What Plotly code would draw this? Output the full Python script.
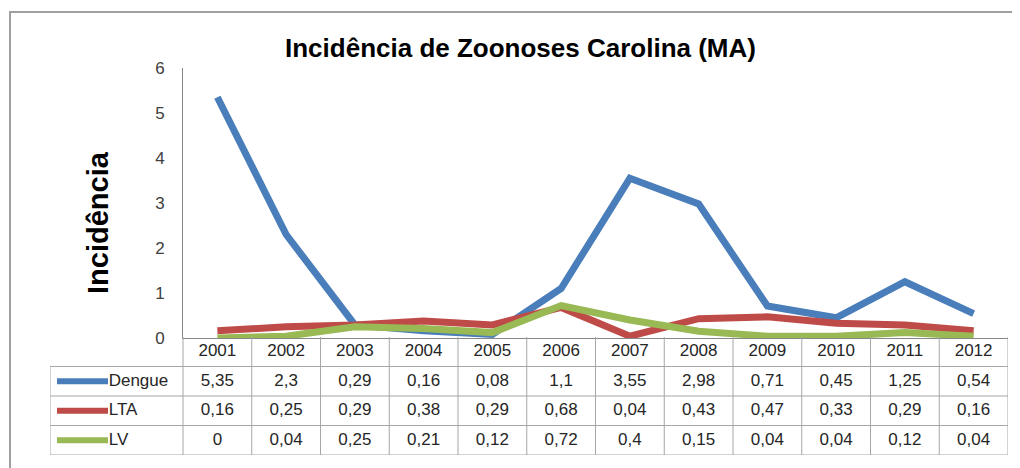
import plotly.graph_objects as go

years = ["2001", "2002", "2003", "2004", "2005", "2006", "2007", "2008", "2009", "2010", "2011", "2012"]
dengue = [5.35, 2.3, 0.29, 0.16, 0.08, 1.1, 3.55, 2.98, 0.71, 0.45, 1.25, 0.54]
lta = [0.16, 0.25, 0.29, 0.38, 0.29, 0.68, 0.04, 0.43, 0.47, 0.33, 0.29, 0.16]
lv = [0, 0.04, 0.25, 0.21, 0.12, 0.72, 0.4, 0.15, 0.04, 0.04, 0.12, 0.04]
series_names = ["Dengue", "LTA", "LV"]
series_values = [dengue, lta, lv]
colors = ["#4a7ebb", "#be4b48", "#98b954"]

W, H = 1020, 468
OFF = 8  # page body margin


def px(x):
    return (x - OFF) / W


def py(y):
    return 1 - (y - OFF) / H


n = len(years)
xs = list(range(n))
col_w = (1008 - 183) / n
label_w = (183 - 50) / col_w
x2min = -0.5 - label_w

fig = go.Figure()

for name, vals, col in zip(series_names, series_values, colors):
    fig.add_trace(go.Scatter(x=xs, y=vals, mode="lines", name=name,
                             line=dict(color=col, width=7), showlegend=False,
                             xaxis="x", yaxis="y"))

tfont = dict(family="Liberation Sans, Arial", size=17, color="#262626")
fig.add_trace(go.Scatter(x=xs, y=[3.5] * n, mode="text", text=years, textfont=tfont,
                         xaxis="x2", yaxis="y2", showlegend=False, hoverinfo="skip"))
for r, (name, vals, col) in enumerate(zip(series_names, series_values, colors)):
    row_y = 2.5 - r
    fig.add_trace(go.Scatter(x=xs, y=[row_y] * n, mode="text",
                             text=[f"{v:g}".replace(".", ",") for v in vals],
                             textfont=tfont, xaxis="x2", yaxis="y2",
                             showlegend=False, hoverinfo="skip"))
    k0 = x2min + 7 / col_w
    k1 = x2min + 58 / col_w
    fig.add_trace(go.Scatter(x=[k0, k1], y=[row_y, row_y], mode="lines",
                             line=dict(color=col, width=6), xaxis="x2", yaxis="y2",
                             showlegend=False, hoverinfo="skip"))
    fig.add_trace(go.Scatter(x=[k1 + 0.01], y=[row_y], mode="text", text=[name],
                             textposition="middle right", textfont=tfont,
                             xaxis="x2", yaxis="y2", showlegend=False, hoverinfo="skip"))

shapes = []
gcol = "#a6a6a6"
for i in range(n + 1):
    shapes.append(dict(type="line", xref="x2", yref="y2", x0=i - 0.5, x1=i - 0.5,
                       y0=0, y1=4, line=dict(color=gcol, width=1)))
shapes.append(dict(type="line", xref="x2", yref="y2", x0=x2min, x1=x2min,
                   y0=0, y1=3, line=dict(color=gcol, width=1)))
for j in range(4):
    shapes.append(dict(type="line", xref="x2", yref="y2", x0=x2min, x1=n - 0.5,
                       y0=j, y1=j, line=dict(color=gcol, width=1)))
# outer chart border
shapes.append(dict(type="rect", xref="paper", yref="paper", x0=px(10), x1=px(1030),
                   y0=py(480), y1=py(12), line=dict(color="#a0a0a0", width=2), layer="below"))

fig.update_layout(
    width=W, height=H,
    margin=dict(l=0, r=0, t=0, b=0, autoexpand=False),
    paper_bgcolor="white", plot_bgcolor="rgba(0,0,0,0)",
    shapes=shapes,
    xaxis=dict(domain=[px(183), px(1008)], range=[-0.5, n - 0.5], showticklabels=False,
               showgrid=False, zeroline=False, showline=True, linecolor="#868686",
               linewidth=1, ticks="", automargin=False),
    yaxis=dict(domain=[py(338), py(68)], range=[0, 6], dtick=1, showgrid=False,
               zeroline=False, showline=True, linecolor="#868686", linewidth=1,
               ticks="", ticklabelstandoff=14, automargin=False,
               tickfont=dict(family="Liberation Sans, Arial", size=17, color="#404040")),
    xaxis2=dict(domain=[px(50), px(1008)], range=[x2min, n - 0.5], visible=False,
                anchor="y2", automargin=False),
    yaxis2=dict(domain=[py(455), py(337)], range=[0, 4], visible=False, anchor="x2",
                automargin=False),
    annotations=[
        dict(text="<b>Incidência de Zoonoses Carolina (MA)</b>", xref="paper", yref="paper",
             x=px(520), y=py(48), xanchor="center", yanchor="middle", showarrow=False,
             font=dict(family="Liberation Sans, Arial", size=26, color="#000000")),
        dict(text="<b>Incidência</b>", xref="paper", yref="paper", x=px(98), y=py(223),
             xanchor="center", yanchor="middle", textangle=-90, showarrow=False,
             font=dict(family="Liberation Sans, Arial", size=29, color="#000000")),
    ],
)

fig.write_html("out.html")
